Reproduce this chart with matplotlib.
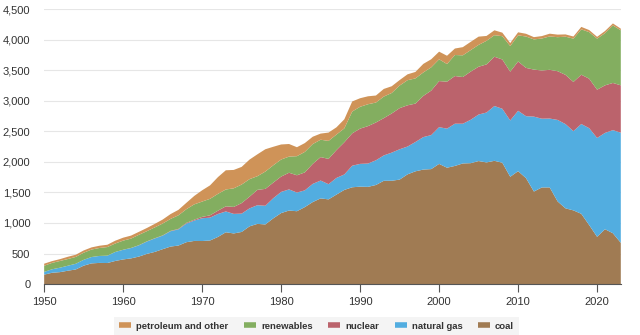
import numpy as np
import matplotlib.pyplot as plt
from matplotlib.lines import Line2D

plt.rcParams['font.family'] = ['Liberation Sans', 'DejaVu Sans']

years = np.arange(1950, 2024)

# billion kWh
coal = [154.5, 185.2, 195.4, 218.8, 239.1, 301.4, 338.5, 346.4, 344.4, 378.4,
        403.1, 420.4, 450.2, 493.9, 526.2, 570.9, 613.5, 630.5, 684.9, 706.0,
        704.4, 713.1, 771.1, 847.7, 828.4, 852.8, 944.4, 985.2, 975.7, 1075.0,
        1161.6, 1203.2, 1192.0, 1259.4, 1341.7, 1402.1, 1385.8, 1463.8, 1540.7, 1583.9,
        1594.0, 1590.6, 1621.2, 1690.1, 1690.7, 1709.4, 1795.2, 1845.0, 1873.5, 1881.1,
        1966.3, 1904.0, 1933.1, 1973.7, 1978.3, 2012.9, 1990.5, 2016.5, 1985.8, 1755.9,
        1847.3, 1733.4, 1514.0, 1581.1, 1581.7, 1352.4, 1239.1, 1205.8, 1149.5, 965.0,
        773.4, 897.9, 831.5, 675.0]

natural_gas = [44.6, 57.0, 72.8, 81.4, 93.0, 95.3, 104.3, 114.0, 120.4, 146.7,
               158.0, 169.3, 184.3, 201.8, 220.0, 221.6, 251.2, 264.8, 304.4, 333.3,
               372.9, 374.0, 375.7, 340.9, 320.1, 299.8, 294.6, 305.5, 305.4, 329.5,
               346.2, 345.8, 305.3, 274.1, 297.4, 291.9, 248.5, 272.6, 252.8, 352.8,
               372.8, 381.6, 404.1, 414.9, 460.2, 496.1, 455.1, 479.4, 531.3, 556.4,
               601.0, 639.1, 691.0, 649.9, 710.1, 761.0, 816.4, 896.6, 883.0, 921.0,
               987.7, 1013.7, 1225.9, 1124.8, 1126.6, 1333.5, 1378.3, 1296.4, 1469.1, 1585.8,
               1617.3, 1575.3, 1687.1, 1802.0]

nuclear = [0, 0, 0, 0, 0, 0, 0, 0.01, 0.2, 0.19,
           0.5, 1.7, 2.3, 3.2, 3.3, 3.7, 5.5, 7.7, 12.5, 13.9,
           21.8, 38.1, 54.1, 83.5, 114.0, 172.5, 191.1, 250.9, 276.4, 255.2,
           251.1, 272.7, 282.8, 293.7, 327.6, 383.7, 414.0, 455.3, 527.0, 529.4,
           576.9, 612.6, 618.8, 610.3, 640.4, 673.4, 674.7, 628.6, 673.7, 728.3,
           753.9, 768.8, 780.1, 763.7, 788.5, 782.0, 787.2, 806.4, 806.2, 798.9,
           807.0, 790.2, 769.3, 789.0, 797.2, 797.2, 805.7, 805.0, 807.1, 809.4,
           789.9, 778.2, 772.2, 775.0]

renewables = [100.9, 104.4, 109.7, 109.6, 112.0, 116.2, 122.0, 130.2, 140.6, 138.6,
              149.4, 152.9, 169.6, 166.5, 177.6, 194.4, 195.9, 222.1, 222.9, 250.9,
              251.0, 269.6, 275.1, 275.7, 304.2, 303.2, 286.9, 223.6, 283.4, 283.1,
              279.2, 263.8, 312.4, 335.3, 324.3, 284.3, 294.0, 254.2, 226.7, 357.0,
              357.2, 357.8, 326.0, 352.7, 335.6, 368.9, 410.8, 411.9, 384.2, 380.4,
              356.5, 288.0, 343.8, 355.3, 351.5, 357.7, 385.8, 352.7, 380.9, 417.7,
              427.4, 513.2, 494.2, 522.5, 546.3, 556.5, 624.9, 708.4, 742.1, 761.9,
              834.7, 853.6, 941.0, 900.0]

petroleum_other = [33.7, 29.3, 30.1, 37.1, 35.7, 37.1, 35.6, 36.7, 38.0, 45.7,
                   48.0, 49.0, 48.6, 52.0, 57.6, 64.8, 78.9, 89.3, 104.3, 138.0,
                   184.2, 220.2, 274.3, 314.3, 300.9, 289.1, 320.0, 358.2, 365.1, 303.5,
                   246.0, 206.4, 146.8, 144.5, 119.8, 100.2, 136.6, 118.5, 148.9, 165.0,
                   140.0, 130.0, 115.0, 125.0, 110.0, 90.0, 96.0, 106.0, 140.0, 132.0,
                   125.0, 136.0, 106.0, 134.0, 135.0, 135.0, 80.0, 80.0, 58.0, 50.0,
                   50.0, 45.0, 37.0, 40.0, 45.0, 42.0, 37.0, 35.0, 40.0, 34.0,
                   30.0, 35.0, 33.0, 27.0]

labels = ['coal', 'natural gas', 'nuclear', 'renewables', 'petroleum and other']
colors = ['#a07b53', '#52ade0', '#bb636c', '#83ae60', '#cf9358']

fig = plt.figure(figsize=(6.4, 3.35), dpi=100)
ax = fig.add_axes([0.069, 0.152, 0.901, 0.821])

ax.stackplot(years, coal, natural_gas, nuclear, renewables, petroleum_other,
             colors=colors, linewidth=0)

ax.set_xlim(1950, 2023)
ax.set_ylim(0, 4500)
ax.set_yticks(np.arange(0, 4501, 500))
ax.set_yticklabels([f'{v:,}' for v in range(0, 4501, 500)])
ax.set_xticks(np.arange(1950, 2021, 10))
ax.grid(axis='y', color='#e6e6e6', linewidth=0.8)
ax.set_axisbelow(True)
for s in ['top', 'right', 'left']:
    ax.spines[s].set_visible(False)
ax.spines['bottom'].set_color('#555555')
ax.tick_params(axis='y', length=0, labelsize=8, colors='#333333', pad=10)
ax.tick_params(axis='x', length=6, color='#555555', labelsize=8, labelcolor='#333333', pad=3)

handles = [Line2D([0], [0], color=c, lw=4, solid_capstyle='butt') for c in colors]
leg = fig.legend(handles[::-1], labels[::-1], loc='center', ncol=5,
                 bbox_to_anchor=(0.4945, 0.026), frameon=True,
                 handlelength=1.3, handletextpad=0.5, columnspacing=1.65,
                 borderpad=0.55, prop={'weight': 'bold', 'size': 6.8})
leg.get_frame().set_facecolor('#f2f2f2')
leg.get_frame().set_edgecolor('none')
leg.get_frame().set_boxstyle('square', pad=0)
for t in leg.get_texts():
    t.set_color('#333333')

fig.savefig('out.png', dpi=100)
